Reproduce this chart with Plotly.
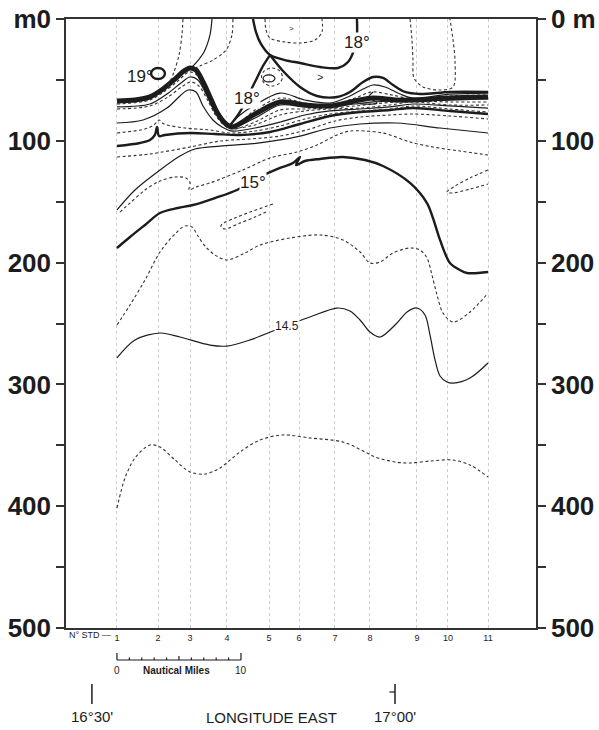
import plotly.graph_objects as go

# ---------------- data ----------------
# stations: distance along the section (nautical miles from station 1)
station_nm = [0, 3.31, 5.89, 8.87, 12.26, 14.68, 17.58, 20.4, 24.19, 26.69, 29.92]
station_labels = ["1", "2", "3", "4", "5", "6", "7", "8", "9", "10", "11"]

depth_ticks = [0, 50, 100, 150, 200, 250, 300, 350, 400, 450, 500]
left_tick_text = ["m0", "", "100", "", "200", "", "300", "", "400", "", "500"]
right_tick_text = ["0 m", "", "100", "", "200", "", "300", "", "400", "", "500"]

scale_nm = [0, 1, 2, 3, 4, 5, 6, 7, 8, 9, 10]
lon_nm = [-2.02, 22.42]
lon_labels = ["16°30'", "17°00'"]

# isotherms (x: nautical miles, y: depth m)
deep_x = [0, 0.65, 1.45, 2.66, 3.47, 4.68, 5.89, 7.1, 8.31, 9.92, 11.53, 13.39, 15.56, 18.23, 20.0, 20.81, 22.42, 23.63, 25.24, 27.1, 28.47, 29.92]
deep_y = [401.5, 376.8, 360.4, 349.8, 351.4, 362.1, 371.9, 373.6, 368.6, 355.5, 345.6, 341.5, 344, 347.3, 355.5, 359.6, 363.7, 364.5, 362.9, 362.1, 366.2, 376.0]

t145_x = [0, 1.45, 3.47, 5.08, 7.5, 8.87, 10.73, 13.39, 15.56, 17.74, 18.79, 19.6, 20.4, 21.21, 22.58, 23.39, 24.19, 24.84, 25.24, 25.65, 26.05, 26.61, 27.1, 28.47, 29.92]
t145_y = [278.3, 263.5, 257.8, 261.1, 267.7, 268.5, 263.5, 252.9, 244.7, 237.3, 239.7, 247.1, 257, 261.1, 249.6, 240.6, 237.3, 243, 259.4, 280, 293.1, 298, 298.9, 294.7, 282.4]

d230_x = [0, 1.05, 2.26, 3.47, 4.68, 5.48, 6.05, 6.53, 7.1, 7.9, 8.87, 10.32, 11.53, 13.95, 16.37, 18.23, 19.6, 20.4, 21.21, 22.26, 23.63, 24.44, 25.0, 25.4, 25.81, 26.29, 27.1, 28.47, 29.92]
d230_y = [251.2, 234.8, 214.3, 191.3, 176.5, 169.9, 170.8, 178.2, 186.4, 193.8, 197.9, 192.1, 185.6, 179.8, 177.3, 181.4, 191.3, 200.3, 199.5, 192.1, 188, 189.7, 196.2, 210.2, 226.6, 241.4, 248.8, 240.6, 225]

sliver_x = [12.58, 10.73, 9.52, 8.47, 8.39, 8.71, 9.92, 11.13, 12.02]
sliver_y = [151.9, 158.5, 163.4, 168.3, 170.8, 172.4, 167.5, 162.6, 158.5]

vee_x = [29.92, 28.47, 27.26, 26.61, 27.02, 28.47, 29.92]
vee_y = [124, 130.5, 137.1, 142, 142.9, 139.6, 135.5]

t15_x = [0, 1.05, 2.26, 3.47, 4.92, 6.13, 7.9, 9.68, 11.53, 13.15, 14.19, 14.76, 14.44, 15.16, 16.37, 18.23, 20.0, 21.45, 23.63, 25.0, 25.48, 26.05, 26.85, 27.66, 28.23, 29.92]
t15_y = [188, 179, 169.1, 159.3, 155.2, 152.7, 147, 140.4, 129.7, 122.3, 118.2, 113.3, 119.9, 116.6, 114.9, 113.3, 115.8, 120.7, 134.6, 151.1, 163.4, 181.4, 200.3, 206.1, 208.5, 207.7]

le_x = [0, 1.45, 3.47, 5.08, 6.29, 8.31, 10.73, 13.15, 14.76, 17.18, 19.6, 22.58, 26.05, 29.92]
le_y = [156.8, 140.4, 124, 112.5, 106.7, 104.3, 102.6, 99.3, 96.1, 89.5, 86.2, 85.4, 89.5, 93.6]

lf_x = [0.24, 1.05, 2.26, 3.47, 4.68, 5.56, 5.89, 5.81, 6.37, 7.5, 10.16, 12.34, 14.52, 16.13, 17.74, 18.79, 21.45, 23.63, 25.48, 27.66, 29.92]
lf_y = [158.5, 151.1, 140.4, 133, 129.7, 130.5, 134.6, 140.4, 137.9, 134.6, 124, 114.1, 109.2, 103.4, 95.2, 92, 93.6, 101, 105.1, 108.4, 111.7]

ld_x = [0, 2.66, 5.89, 8.31, 10.73, 13.15, 15.56, 17.58, 19.6, 22.02, 23.87, 26.85, 29.92]
ld_y = [113.3, 110.8, 105.1, 100.2, 98.5, 96.1, 90.3, 83.7, 80.5, 78.8, 78, 79.6, 82.1]

lc_x = [0, 1.85, 2.66, 3.06, 3.23, 3.39, 3.87, 5.89, 7.9, 9.92, 12.34, 14.76, 17.18, 19.6, 22.02, 23.87, 26.85, 29.92]
lc_y = [104.3, 101.8, 99.3, 95.2, 88.7, 96.1, 95.2, 93.6, 94.4, 95.2, 92.8, 86.2, 79.6, 76.4, 74.7, 73.1, 75.5, 78]

lb_x = [0, 2.26, 2.98, 3.39, 3.79, 5.48, 7.5, 9.11, 11.13, 13.15, 15.16, 17.18, 19.6, 22.02, 23.87, 26.85, 29.92]
lb_y = [93.6, 90.3, 87, 82.9, 86.2, 89.5, 91.1, 93.6, 92, 87.8, 82.1, 78, 75.5, 73.9, 71.4, 73.9, 76.4]

la_x = [0, 2.1, 4.03, 5.08, 5.73, 6.37, 6.94, 7.74, 8.47, 9.27, 11.13, 13.15, 15.16, 17.18, 19.6, 22.02, 23.87, 26.85, 29.92]
la_y = [85.4, 82.9, 73.1, 63.2, 58.3, 59.9, 71.4, 82.9, 88.7, 92, 89.5, 84.6, 78.8, 75.5, 73.9, 72.2, 69.8, 71.4, 73.1]

bt_x = [0, 1.45, 2.66, 3.71, 4.68, 5.4, 5.89, 6.37, 6.94, 7.5, 8.06, 8.63, 9.27, 11.13, 13.15, 15.16, 17.18, 19.19, 20.65, 22.42, 23.87, 26.85, 29.92]
bt_y = [67.3, 66.5, 64, 57.5, 49.3, 42.7, 40.2, 41.9, 51.7, 64, 76.4, 84.6, 88.7, 78, 68.1, 70.6, 71.4, 67.3, 64.9, 66.5, 66.5, 64.9, 64]

bd1_x = [0, 2.66, 3.87, 4.92, 5.81, 6.45, 7.1, 7.74, 8.39, 9.27, 11.13, 13.15, 15.16, 17.18, 19.19, 20.56, 22.18, 23.87, 26.85, 29.92]
bd1_y = [69.8, 66.5, 59.1, 50.9, 43.5, 46, 58.3, 73.1, 82.9, 88.7, 74.7, 64.9, 69, 70.6, 64.9, 59.9, 62.4, 65.7, 63.2, 62.4]

bs_x = [0, 2.66, 4.03, 5.16, 5.89, 6.53, 7.26, 7.9, 8.55, 9.27, 11.13, 13.15, 15.16, 17.18, 19.19, 20.65, 22.42, 23.87, 26.85, 29.92]
bs_y = [72.2, 69.8, 61.6, 52.5, 47.6, 50.1, 63.2, 76.4, 85.4, 89.5, 81.3, 70.6, 72.2, 72.2, 69.8, 68.1, 67.3, 66.5, 66.5, 65.7]

bd2_x = [0, 2.66, 4.11, 5.32, 5.97, 6.61, 7.34, 7.98, 8.63, 9.35, 11.13, 13.15, 15.16, 17.18, 19.19, 20.65, 22.42, 23.87, 26.85, 29.92]
bd2_y = [73.9, 71.4, 64, 55, 51.7, 55, 67.3, 79.6, 87, 90.3, 84.6, 74.7, 73.9, 73.1, 71.4, 69.8, 68.1, 67.3, 68.1, 68.1]

fa_x = [9.03, 9.92, 11.13, 13.15, 15.16, 17.18, 18.79, 19.84, 20.65, 21.61, 22.82, 23.87, 26.85, 29.92]
fa_y = [87.8, 78.8, 70.6, 60.8, 66.5, 69, 63.2, 57.5, 54.2, 55.8, 61.6, 64.9, 61.6, 60.8]

ff_x = [9.27, 11.13, 13.15, 15.16, 17.18, 19.6, 22.02, 23.87, 26.85, 29.92]
ff_y = [90.3, 87, 78.8, 75.5, 73.9, 73.1, 70.6, 68.1, 70.6, 70.6]

hook_x = [19.6, 20.97, 20.32, 20.65]
hook_y = [69.8, 69, 64, 59.9]

d1_x = [5.32, 5.24, 5.0, 4.6, 4.11]
d1_y = [0, 13.1, 29.6, 43.5, 55]
s1_x = [7.66, 7.5, 7.02, 6.37, 5.97]
s1_y = [0, 13.1, 27.1, 36.1, 40.2]
d2_x = [9.35, 9.27, 8.79, 7.74, 6.69, 6.13]
d2_y = [0, 13.1, 25.5, 33.7, 38.6, 41]

u18_x = [10.97, 11.21, 11.61, 12.34, 13.55, 14.76, 16.37, 17.82, 18.63, 19.11, 19.35, 19.35]
u18_y = [0, 10.7, 20.5, 29.6, 33.7, 36.1, 39.4, 40.2, 35.3, 25.5, 13.1, 0]

uin_x = [11.94, 12.02, 12.34, 13.55, 14.76, 15.97, 16.53, 16.53]
uin_y = [0, 9, 15.6, 18.9, 19.7, 17.2, 10.7, 0]

t18l_x = [12.34, 11.77, 11.29, 10.81, 10.32, 9.76, 9.27, 9.03]
t18l_y = [29.6, 38.6, 48.4, 58.3, 69, 78.8, 85.4, 88.7]

t18r_x = [12.34, 13.39, 14.76, 16.13, 17.74, 18.79, 19.84, 20.65, 21.45, 22.26, 23.23, 24.44, 26.85, 29.92]
t18r_y = [29.6, 42.7, 55.8, 63.2, 64, 59.9, 51.7, 47.6, 48.4, 54.2, 59.9, 61.6, 59.9, 59.9]

ell18_x = [12.74, 12.6, 12.26, 11.92, 11.78, 11.92, 12.26, 12.6, 12.74]
ell18_y = [48.8, 50.9, 51.7, 50.9, 48.8, 46.7, 45.9, 46.7, 48.8]

loop18_x = [13.35, 13.1, 12.5, 11.9, 11.65, 11.9, 12.5, 13.1, 13.35]
loop18_y = [47.6, 52.8, 55, 52.8, 47.6, 42.4, 40.2, 42.4, 47.6]

ell19_x = [3.87, 3.71, 3.31, 2.91, 2.75, 2.91, 3.31, 3.71, 3.87]
ell19_y = [44.7, 47.9, 49.2, 47.9, 44.7, 41.5, 40.2, 41.5, 44.7]

ur_x = [23.63, 23.79, 23.87, 23.95, 24.68, 26.05, 27.1, 27.26, 27.1, 26.85]
ur_y = [0, 17.2, 33.7, 48.4, 55.8, 58.3, 55.8, 35.3, 17.2, 0]

# labels on isotherms
iso_label_text = ["19°", "18°", "18°", "15°", "14.5"]
iso_label_x = [1.85, 10.48, 19.35, 10.97, 13.71]
iso_label_y = [47.6, 64.9, 19.7, 134.6, 252]

# ---------------- styles ----------------
INK = "#1c1c1c"
styles = {
    "heavy": dict(color=INK, width=5.0),
    "thick": dict(color=INK, width=2.4),
    "thin": dict(color=INK, width=1.2),
    "dash": dict(color="#333333", width=1.1, dash="3px,2.5px"),
}

lines = [
    (deep_x, deep_y, "dash"), (t145_x, t145_y, "thin"), (d230_x, d230_y, "dash"),
    (sliver_x, sliver_y, "dash"), (vee_x, vee_y, "dash"), (t15_x, t15_y, "thick"),
    (le_x, le_y, "thin"), (lf_x, lf_y, "dash"), (ld_x, ld_y, "dash"),
    (lc_x, lc_y, "thick"), (lb_x, lb_y, "dash"), (la_x, la_y, "thin"),
    (bd2_x, bd2_y, "dash"), (bs_x, bs_y, "thin"), (bd1_x, bd1_y, "dash"),
    (bt_x, bt_y, "heavy"), (fa_x, fa_y, "thin"), (ff_x, ff_y, "dash"),
    (hook_x, hook_y, "thin"), (d1_x, d1_y, "dash"), (s1_x, s1_y, "thin"),
    (d2_x, d2_y, "dash"), (u18_x, u18_y, "thick"), (uin_x, uin_y, "dash"),
    (t18l_x, t18l_y, "thick"), (t18r_x, t18r_y, "thick"), (ell18_x, ell18_y, "thin"),
    (loop18_x, loop18_y, "dash"), (ell19_x, ell19_y, "thick"), (ur_x, ur_y, "dash"),
]

fig = go.Figure()
for xs, ys, st in lines:
    fig.add_trace(go.Scatter(x=xs, y=ys, mode="lines", line=dict(shape="spline", smoothing=0.9, **styles[st]),
                             hoverinfo="skip", showlegend=False))
fig.add_trace(go.Scatter(x=[None], y=[None], yaxis="y2", showlegend=False))

annotations = []
for t, x, y in zip(iso_label_text, iso_label_x, iso_label_y):
    annotations.append(dict(x=x, y=y, xref="x", yref="y", text=t, showarrow=False,
                            font=dict(size=12 if t == "14.5" else 17, color=INK, family="Liberation Sans"),
                            bgcolor="white" if t != "19°" else "rgba(0,0,0,0)", borderpad=0))
annotations.append(dict(x=16.37, y=47.6, text=">", showarrow=False, font=dict(size=11, color=INK)))
annotations.append(dict(x=14.11, y=7.4, text=">", showarrow=False, font=dict(size=8, color=INK)))

# bottom annotations (paper y computed from plot height)
def py(p):
    return (628 - p) / 609.0

def bottom_note(x, p, text, size, xanchor="center"):
    return dict(x=x, y=py(p), xref="x", yref="paper", text=text, showarrow=False,
                xanchor=xanchor, yanchor="middle", font=dict(size=size, color=INK))

annotations.append(bottom_note(-0.3, 635, "N° STD —", 9, "right"))
annotations.append(bottom_note(scale_nm[0], 670, "0", 10))
annotations.append(bottom_note(scale_nm[-1], 670, "10", 10))
annotations.append(bottom_note(4.8, 670, "<b>Nautical Miles</b>", 10))
for x, t in zip(lon_nm, lon_labels):
    annotations.append(bottom_note(x, 716, t, 15))
annotations.append(bottom_note(12.5, 717, "LONGITUDE EAST", 15))

shapes = []
shapes.append(dict(type="line", xref="x", yref="paper", x0=scale_nm[0], x1=scale_nm[-1], y0=py(660), y1=py(660),
                   line=dict(color=INK, width=1.2)))
for v in scale_nm:
    top = 653 if v in (scale_nm[0], scale_nm[-1]) else (656 if v == scale_nm[5] else 657.5)
    shapes.append(dict(type="line", xref="x", yref="paper", x0=v, x1=v, y0=py(660), y1=py(top),
                       line=dict(color=INK, width=1.2)))
for x in lon_nm:
    shapes.append(dict(type="line", xref="x", yref="paper", x0=x, x1=x, y0=py(684), y1=py(704),
                       line=dict(color=INK, width=1.5)))
shapes.append(dict(type="line", xref="x", yref="paper", x0=lon_nm[1] - 0.45, x1=lon_nm[1], y0=py(692), y1=py(692),
                   line=dict(color=INK, width=1.2)))

axis_font = dict(size=26, color=INK, family="Liberation Sans", weight="bold")
fig.update_layout(
    width=599, height=730, margin=dict(l=66, r=63, t=19, b=102, autoexpand=False),
    paper_bgcolor="white", plot_bgcolor="white", showlegend=False,
    font=dict(family="Liberation Sans", color=INK),
    xaxis=dict(range=[-4.11, 33.79], tickmode="array", tickvals=station_nm, ticktext=station_labels,
               ticks="", tickfont=dict(size=9, color=INK), showgrid=True, gridcolor="#cccccc",
               griddash="dot", gridwidth=1, showline=True, linecolor="#333", linewidth=1.5,
               mirror=True, zeroline=False, automargin=False),
    yaxis=dict(range=[500, 0], tickmode="array", tickvals=depth_ticks, ticktext=left_tick_text,
               ticks="outside", ticklen=8, tickwidth=1.5, tickcolor="#333", tickfont=axis_font,
               showline=True, linecolor="#333", linewidth=1.5, mirror=True, showgrid=False, zeroline=False,
               automargin=False),
    yaxis2=dict(range=[500, 0], overlaying="y", side="right", anchor="x", tickmode="array",
                tickvals=depth_ticks, ticktext=right_tick_text, ticks="outside", ticklen=8, tickwidth=1.5,
                tickcolor="#333", tickfont=axis_font, showline=True, linecolor="#333", linewidth=1.5,
                showgrid=False, zeroline=False, automargin=False),
    annotations=annotations, shapes=shapes,
)

fig.write_html("out.html")
